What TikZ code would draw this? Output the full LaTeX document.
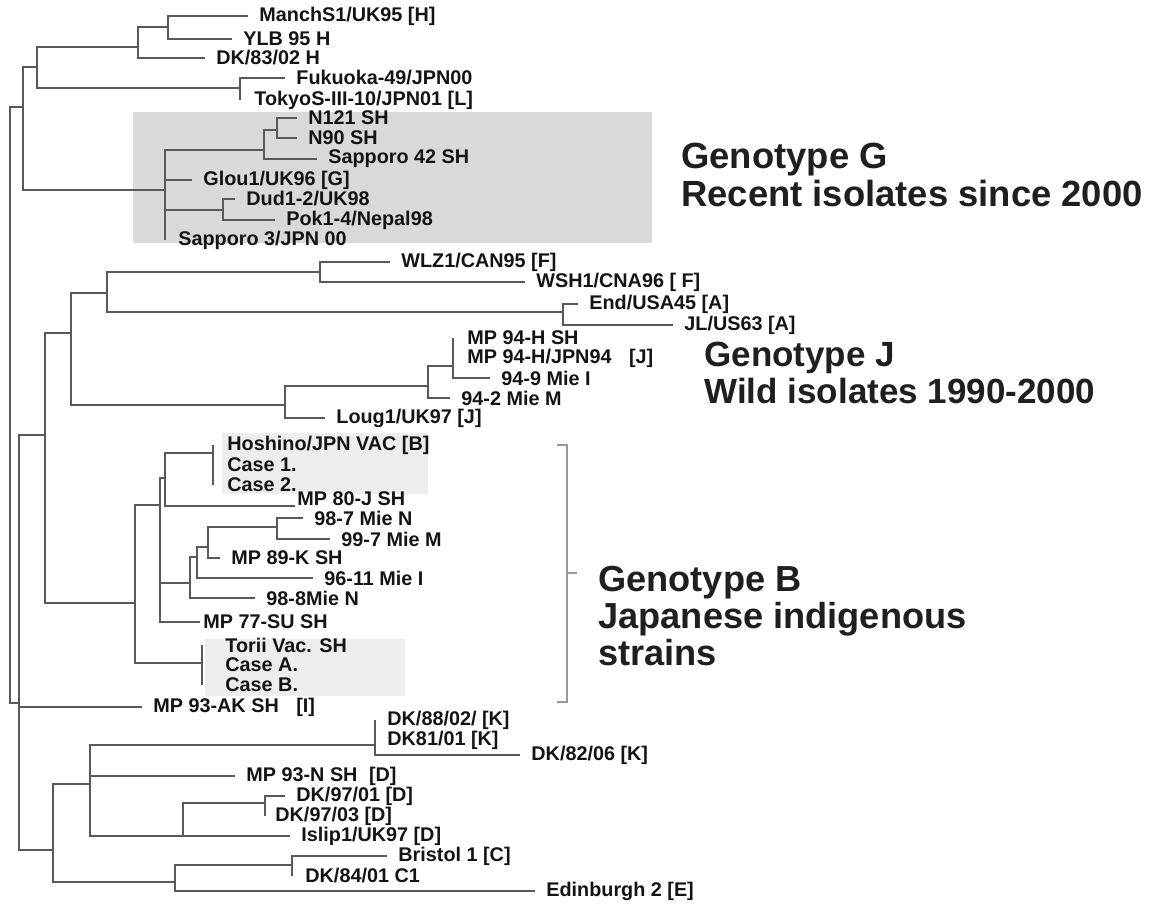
\documentclass[tikz,border=0pt]{standalone}
\usepackage{fontspec}
\setmainfont{Liberation Sans}
\newcommand{\leaffont}{\fontsize{9.9}{11}\selectfont\bfseries}
\newcommand{\genofont}{\fontsize{17.5}{18.7}\selectfont\bfseries}
\tikzset{
    branch/.style={draw=black!65,line width=0.8pt,to path={|- (\tikztotarget)}},
    leafnode/.style={anchor=west,inner xsep=5.5pt,inner ysep=0pt,font=\leaffont,text=black!92},
    zeroleaf/.style={leafnode,inner xsep=#1},
    genonode/.style={anchor=west,align=left,inner sep=0pt,font=\genofont,text=black!88},
    darkshade/.style={fill=black!15},
    lightshade/.style={fill=black!7},
    bracketline/.style={draw=black!40,line width=1.3pt}
}
\begin{document}
\begin{tikzpicture}[x=0.5pt,y=-0.5pt,every edge/.style={branch}]
\useasboundingbox (0,0) rectangle (1154,908);

% shaded groups
\fill[darkshade] (133,112) rectangle (652,243);
\fill[lightshade] (222,433) rectangle (428,494);
\fill[lightshade] (205,639) rectangle (405,696);

% internal nodes
\coordinate (R) at (10,400);
\coordinate (U) at (23,107);
\coordinate (HL) at (37,67);
\coordinate (H1) at (138,47);
\coordinate (H2) at (168,27);
\coordinate (FK) at (240,88);
\coordinate (G) at (165,190);
\coordinate (G1) at (264,150);
\coordinate (G11) at (277,130);
\coordinate (G2) at (223,210);
\coordinate (M) at (19,703);
\coordinate (A) at (45,435);
\coordinate (FA) at (71,333);
\coordinate (F1) at (107,293);
\coordinate (F) at (320,272);
\coordinate (AA) at (563,312);
\coordinate (J) at (285,405);
\coordinate (J1) at (428,386);
\coordinate (J2) at (453,366);
\coordinate (B) at (135,603);
\coordinate (BB) at (160,505);
\coordinate (HS) at (165,478);
\coordinate (HG) at (213,453);
\coordinate (MI) at (190,583);
\coordinate (MI1) at (197,557);
\coordinate (MI2) at (208,547);
\coordinate (MI3) at (277,527);
\coordinate (TG) at (202,663);
\coordinate (KD) at (53,850);
\coordinate (KDU) at (90,784);
\coordinate (K) at (375,745);
\coordinate (D) at (183,836);
\coordinate (D97) at (265,803);
\coordinate (CE) at (175,882);
\coordinate (C) at (292,865);

% strains
\node[leafnode] (manch) at (248,16) {ManchS1/UK95 [H]};
\node[leafnode] (ylb) at (232,39) {YLB 95 H};
\node[leafnode] (dk83) at (205,58) {DK/83/02 H};
\node[leafnode] (fuk) at (285,78) {Fukuoka-49/JPN00};
\node[zeroleaf=7pt] (tokyo) at (240,100) {TokyoS-III-10/JPN01 [L]};
\node[leafnode] (n121) at (297,118) {N121 SH};
\node[leafnode] (n90) at (297,138) {N90 SH};
\node[leafnode] (sap42) at (317,159) {Sapporo 42 SH};
\node[leafnode] (glou) at (192,180) {Glou1/UK96 [G]};
\node[leafnode] (dud) at (235,199) {Dud1-2/UK98};
\node[leafnode] (pok) at (275,220) {Pok1-4/Nepal98};
\node[zeroleaf=6.5pt] (sap3) at (165,240) {Sapporo 3/JPN 00};
\node[leafnode] (wlz) at (390,262) {WLZ1/CAN95 [F]};
\node[leafnode] (wsh) at (525,282) {WSH1/CNA96 [ F]};
\node[leafnode] (usa45) at (578,304) {End/USA45 [A]};
\node[leafnode] (jl) at (673,325) {JL/US63 [A]};
\node[zeroleaf=7pt] (mp94) at (453,338) {MP 94-H SH};
\node[zeroleaf=7pt] (mp94j) at (453,358) {MP 94-H/JPN94 \hspace{6pt}[J]};
\node[leafnode] (m949) at (490,378) {94-9 Mie I};
\node[leafnode] (m942) at (450,398) {94-2 Mie M};
\node[leafnode] (loug) at (325,418) {Loug1/UK97 [J]};
\node[zeroleaf=7pt] (hosh) at (213,445) {Hoshino/JPN VAC [B]};
\node[zeroleaf=7pt] (case1) at (213,465) {Case 1.};
\node[zeroleaf=7pt] (case2) at (213,485) {Case 2.};
\node[leafnode,anchor=south west,inner xsep=1pt] (mp80) at (295,506) {MP 80-J SH};
\node[leafnode] (m987) at (303,518) {98-7 Mie N};
\node[leafnode] (m997) at (330,539) {99-7 Mie M};
\node[leafnode] (mp89) at (220,558) {MP 89-K SH};
\node[leafnode] (m9611) at (313,578) {96-11 Mie I};
\node[leafnode] (m988) at (255,598) {98-8Mie N};
\node[leafnode,inner xsep=1.5pt] (mp77) at (200,622) {MP 77-SU SH};
\node[zeroleaf=11.5pt] (torii) at (202,645) {Torii Vac. SH};
\node[zeroleaf=11.5pt] (caseA) at (202,665) {Case A.};
\node[zeroleaf=11.5pt] (caseB) at (202,685) {Case B.};
\node[leafnode] (ak) at (142,707) {MP 93-AK SH \hspace{6pt}[I]};
\node[zeroleaf=6pt] (dk88) at (375,720) {DK/88/02/ [K]};
\node[zeroleaf=6pt] (dk81) at (375,740) {DK81/01 [K]};
\node[leafnode] (dk82) at (520,755) {DK/82/06 [K]};
\node[leafnode] (mp93n) at (235,776) {MP 93-N SH \hspace{3pt}[D]};
\node[leafnode] (dk9701) at (285,796) {DK/97/01 [D]};
\node[zeroleaf=5pt] (dk9703) at (265,816) {DK/97/03 [D]};
\node[leafnode] (islip) at (290,836) {Islip1/UK97 [D]};
\node[leafnode] (bristol) at (387,856) {Bristol 1 [C]};
\node[zeroleaf=6.5pt] (dk84) at (292,876) {DK/84/01 C1};
\node[leafnode] (edin) at (535,891) {Edinburgh 2 [E]};

% branches
\path
(R)   edge (U) edge (M)
(U)   edge (HL) edge (G)
(HL)  edge (H1) edge (FK)
(H1)  edge (H2) edge (dk83)
(H2)  edge (manch) edge (ylb)
(FK)  edge (fuk) edge (tokyo)
(G)   edge (G1) edge (glou) edge (G2) edge (sap3)
(G1)  edge (G11) edge (sap42)
(G11) edge (n121) edge (n90)
(G2)  edge (dud) edge (pok)
(M)   edge (A) edge (ak) edge (KD)
(A)   edge (FA) edge (B)
(FA)  edge (F1) edge (J)
(F1)  edge (F) edge (AA)
(F)   edge (wlz) edge (wsh)
(AA)  edge (usa45) edge (jl)
(J)   edge (J1) edge (loug)
(J1)  edge (J2) edge (m942)
(J2)  edge (mp94) edge (mp94j) edge (m949)
(B)   edge (BB) edge (TG)
(BB)  edge (HS) edge (MI) edge (mp77)
(HS)  edge (HG) edge (mp80.south west)
(HG)  edge (hosh) edge (case1) edge (case2)
(MI)  edge (MI1) edge (m988)
(MI1) edge (MI2) edge (m9611)
(MI2) edge (MI3) edge (mp89)
(MI3) edge (m987) edge (m997)
(TG)  edge (torii) edge (caseA) edge (caseB)
(KD)  edge (KDU) edge (CE)
(KDU) edge (K) edge (mp93n) edge (D)
(K)   edge (dk88) edge (dk81) edge (dk82)
(D)   edge (D97) edge (islip)
(D97) edge (dk9701) edge (dk9703)
(CE)  edge (C) edge (edin)
(C)   edge (bristol) edge (dk84)
;

% genotype bracket
\coordinate (brTL) at (557,445);
\coordinate (brT) at (567,445);
\coordinate (brB) at (567,702);
\coordinate (brBL) at (557,702);
\coordinate (brM) at (567,573);
\coordinate (brTk) at (577,573);
\draw[bracketline] (brTL) -- (brT) -- (brB) -- (brBL) (brM) -- (brTk);

% genotype labels
\node[genonode,font=\fontsize{18.2}{18.7}\selectfont\bfseries] (geneG) at (681,175) {Genotype G\\Recent isolates since 2000};
\node[genonode] (geneJ) at (704,373) {Genotype J\\Wild isolates 1990-2000};
\node[genonode,font=\fontsize{18.1}{18.7}\selectfont\bfseries] (geneB) at (598,616) {Genotype B\\Japanese indigenous\\strains};
\end{tikzpicture}
\end{document}
